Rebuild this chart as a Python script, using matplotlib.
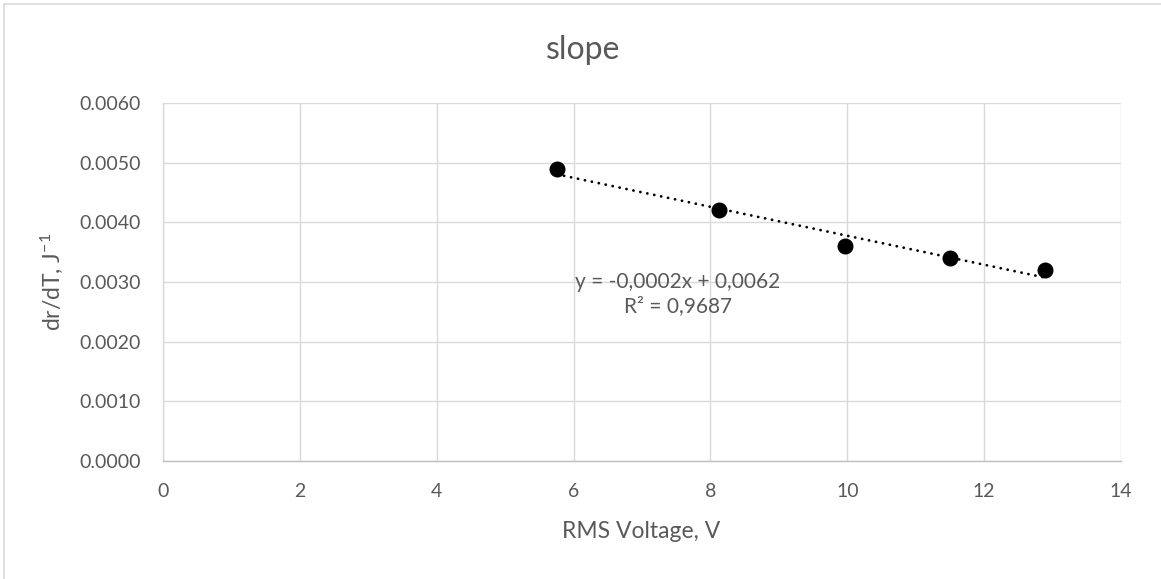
import numpy as np
import matplotlib
matplotlib.use("Agg")
import matplotlib.pyplot as plt
from matplotlib.lines import Line2D

# Data
voltage = [5.76, 8.13, 9.97, 11.50, 12.89]
slope_vals = [0.0049, 0.0042, 0.0036, 0.0034, 0.0032]
x_ticks = [0, 2, 4, 6, 8, 10, 12, 14]
y_ticks = [0.0, 0.001, 0.002, 0.003, 0.004, 0.005, 0.006]
title = "slope"
x_label = "RMS Voltage, V"
y_label = "dr/dT, J$^{-1}$"
eq_text = "y = -0,0002x + 0,0062\nR² = 0,9687"

plt.rcParams['font.family'] = ['Lato', 'DejaVu Sans']
plt.rcParams['mathtext.fontset'] = 'custom'
plt.rcParams['mathtext.rm'] = 'Lato'
plt.rcParams['mathtext.it'] = 'Lato'

txt = '#595959'
grid = '#d9d9d9'

W, H = 1161, 579
fig = plt.figure(figsize=(W / 100, H / 100), dpi=100)
ax = fig.add_axes([163 / W, 1 - 461 / H, (1121 - 163) / W, (461 - 103) / H])

x = np.array(voltage)
y = np.array(slope_vals)
coef = np.polyfit(x, y, 1)
xl = np.array([x.min(), x.max()])
ax.plot(xl, np.polyval(coef, xl), color='black', lw=2.0,
        linestyle=(0, (0.05, 2.5)), dash_capstyle='round', zorder=3)
ax.plot(x, y, 'o', color='black', markersize=10.5, zorder=4)

ax.set_xlim(0, 14)
ax.set_ylim(0, 0.006)
ax.set_xticks(x_ticks)
ax.set_yticks(y_ticks)
ax.set_yticklabels([f"{v:.4f}" for v in y_ticks])
ax.grid(True, color=grid, lw=1.0)
ax.set_axisbelow(True)
for s in ['top', 'right']:
    ax.spines[s].set_visible(False)
ax.spines['left'].set_color(grid)
ax.spines['bottom'].set_color('#bfbfbf')
ax.spines['left'].set_linewidth(1.0)
ax.spines['bottom'].set_linewidth(1.0)
ax.tick_params(axis='y', length=0, labelsize=14, labelcolor=txt, pad=16)
ax.tick_params(axis='x', length=0, labelsize=14, labelcolor=txt, pad=16)

fig.text(641 / W, 1 - 532 / H, x_label, fontsize=16.5, color=txt,
         ha='center', va='center')
fig.text(52 / W, 1 - 282 / H, y_label, fontsize=16.5, color=txt,
         ha='center', va='center', rotation=90)

fig.text(583 / W, 1 - 50 / H, title, fontsize=23, color=txt,
         ha='center', va='center')

fig.text(678 / W, 1 - 294 / H, eq_text, ha='center', va='center',
         fontsize=15, color=txt, linespacing=1.2)

# chart-area border (left and top visible)
fig.add_artist(Line2D([4 / W, 4 / W], [0, 1 - 4 / H], transform=fig.transFigure,
                      color=grid, lw=1.2))
fig.add_artist(Line2D([4 / W, 1], [1 - 4 / H, 1 - 4 / H], transform=fig.transFigure,
                      color=grid, lw=1.2))

fig.savefig('out.png', dpi=100)
